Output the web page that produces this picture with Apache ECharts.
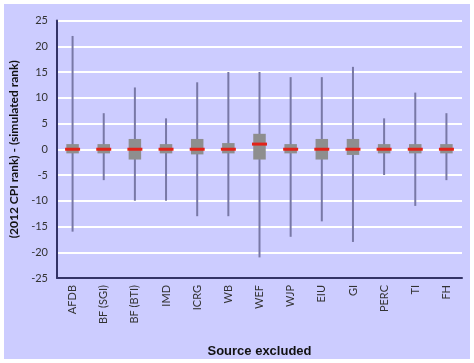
<!DOCTYPE html>
<html>
<head>
<meta charset="utf-8">
<script src="https://cdn.jsdelivr.net/npm/echarts@6/dist/echarts.min.js"></script>
<style>
html,body{margin:0;padding:0;background:#fff;}
#c{width:474px;height:363px;}
</style>
</head>
<body>
<div id="c"></div>
<script>
var categories = ['AFDB','BF (SGI)','BF (BTI)','IMD','ICRG','WB','WEF','WJP','EIU','GI','PERC','TI','FH'];
var whiskerMax = [22, 7, 12, 6, 13, 15, 15, 14, 14, 16, 6, 11, 7];
var boxHigh    = [1, 1, 2, 1, 2, 1.2, 3, 1, 2, 2, 1, 1, 1];
var medianVal  = [0, 0, 0, 0, 0, 0, 1, 0, 0, 0, 0, 0, 0];
var boxLow     = [-0.8, -0.8, -2, -0.8, -1, -0.8, -2, -0.8, -2, -1.1, -0.8, -0.8, -0.8];
var whiskerMin = [-16, -6, -10, -10, -13, -13, -21, -17, -14, -18, -5, -11, -6];
var yTicks = {min: -25, max: 25, interval: 5};

var seriesData = categories.map(function (c, i) {
  return [i, whiskerMin[i], boxLow[i], medianVal[i], boxHigh[i], whiskerMax[i]];
});

var chart = echarts.init(document.getElementById('c'), null, {renderer: 'canvas'});
chart.setOption({
  backgroundColor: '#ffffff',
  animation: false,
  graphic: [{
    type: 'rect', z: -10, silent: true,
    shape: {x: 4, y: 4, width: 466, height: 355},
    style: {fill: '#ccccff'}
  }],
  grid: {left: 52, right: 12, top: 20.5, bottom: 82, containLabel: false},
  xAxis: {
    type: 'category',
    data: categories,
    axisLine: {show: true, onZero: false, lineStyle: {color: '#333366', width: 2}},
    axisTick: {show: false},
    axisLabel: {rotate: 90, fontSize: 11, color: '#333333', fontFamily: 'Lato', margin: 7},
    splitLine: {show: false},
    name: 'Source excluded',
    nameLocation: 'middle',
    nameGap: 67,
    nameTextStyle: {fontSize: 13, fontWeight: 'bold', color: '#111111', fontFamily: 'Liberation Sans'}
  },
  yAxis: {
    type: 'value',
    min: yTicks.min, max: yTicks.max, interval: yTicks.interval,
    axisLine: {show: true, lineStyle: {color: '#333366', width: 2}},
    axisTick: {show: false},
    axisLabel: {fontSize: 11, color: '#333333', fontFamily: 'Lato', margin: 9},
    splitLine: {show: true, lineStyle: {color: '#ffffff', width: 2}},
    name: '(2012 CPI rank) - (simulated rank)',
    nameLocation: 'middle',
    nameRotate: 90,
    nameGap: 37,
    nameTextStyle: {fontSize: 12, fontWeight: 'bold', color: '#111111', fontFamily: 'Lato'}
  },
  series: [{
    type: 'custom',
    data: seriesData,
    encode: {x: 0, y: [1, 2, 3, 4, 5]},
    renderItem: function (params, api) {
      var idx = api.value(0);
      var pMin = api.coord([idx, api.value(1)]);
      var pLo = api.coord([idx, api.value(2)]);
      var pMed = api.coord([idx, api.value(3)]);
      var pHi = api.coord([idx, api.value(4)]);
      var pMax = api.coord([idx, api.value(5)]);
      var x = pMin[0];
      var bw = 12.5, mw = 15;
      return {
        type: 'group',
        children: [
          {type: 'line', shape: {x1: x, y1: pMax[1], x2: x, y2: pMin[1]},
           style: {stroke: '#7878a6', lineWidth: 2}},
          {type: 'rect', shape: {x: x - bw / 2, y: pHi[1], width: bw, height: pLo[1] - pHi[1]},
           style: {fill: '#8e8e8e'}},
          {type: 'line', shape: {x1: x - mw / 2, y1: pMed[1], x2: x + mw / 2, y2: pMed[1]},
           style: {stroke: '#e2231a', lineWidth: 3}}
        ]
      };
    }
  }]
});
</script>
</body>
</html>
